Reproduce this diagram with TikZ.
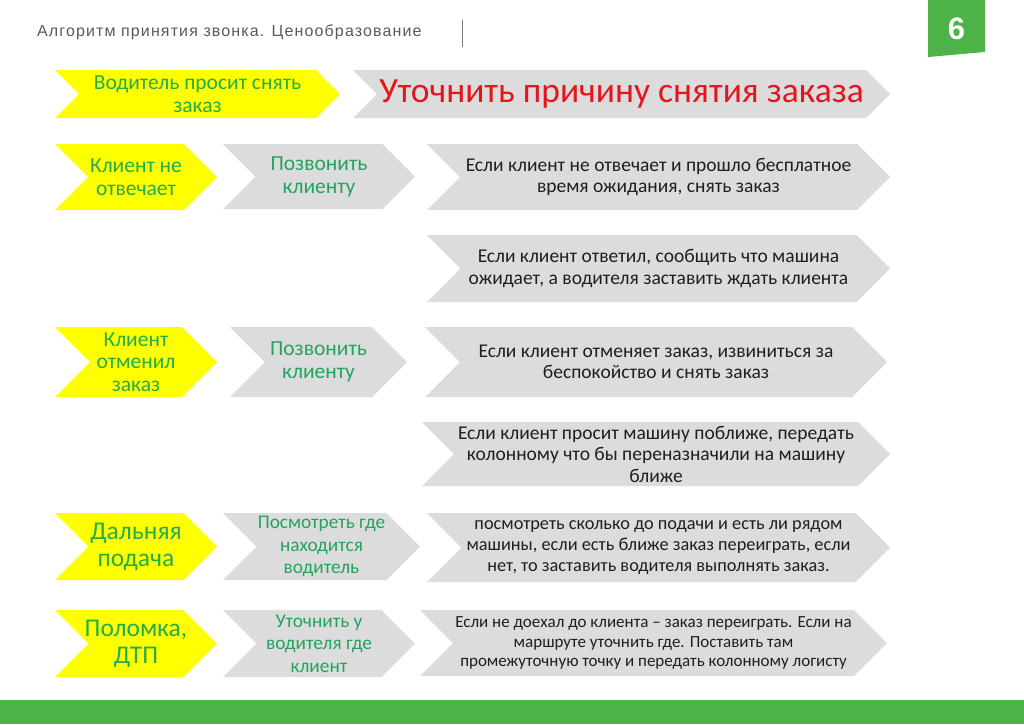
\documentclass[tikz,border=0pt]{standalone}
\usepackage{fontspec}
\setmainfont{Carlito}
\newfontfamily\headfont{Liberation Sans}

\definecolor{leadgreen}{HTML}{22AE48}
\definecolor{actgreen}{HTML}{22A45E}
\definecolor{chevgray}{HTML}{DCDCDC}
\definecolor{chevyellow}{HTML}{FFFF00}
\definecolor{titlered}{HTML}{E2161C}
\definecolor{slidegreen}{HTML}{4DB247}
\definecolor{headgray}{HTML}{595959}

%% chevron: [text style]{fill}{left}{right}{top}{bottom}{name}{text}
\newcommand{\chev}[8][]{%
  \fill[#2] (#3,#5) -- ({#4-(#6-#5)/2},#5) -- (#4,{(#5+#6)/2})
    -- ({#4-(#6-#5)/2},#6) -- (#3,#6) -- ({#3+(#6-#5)/2},{(#5+#6)/2}) -- cycle;
  \node[#1] (#7) at ({(#3+#4)/2},{(#5+#6)/2}) {#8};
}

\begin{document}
\begin{tikzpicture}[x=1pt,y=-1pt,
    lead/.style={text=leadgreen, align=center, font=\fontsize{21.5}{22.5}\selectfont},
    bigl/.style={text=leadgreen, align=center, font=\fontsize{25.5}{27}\selectfont},
    act/.style={text=actgreen, align=center, font=\fontsize{21.5}{23}\selectfont},
    acts/.style={text=actgreen, align=center, font=\fontsize{19.3}{22.5}\selectfont},
    note/.style={text=black!88, align=center, font=\fontsize{19.5}{21.5}\selectfont},
    notem/.style={text=black!88, align=center, font=\fontsize{18.3}{21}\selectfont},
    notes/.style={text=black!88, align=center, font=\fontsize{17}{19.5}\selectfont}]
  \useasboundingbox (0,0) rectangle (1024,724);

  %% header
  \node[anchor=west, text=headgray, inner sep=0pt,
    font=\headfont\addfontfeature{LetterSpace=7}\fontsize{16}{18}\selectfont]
    (title) at (37,32) {Алгоритм принятия звонка. Ценообразование};
  \draw[headgray!80, line width=0.9pt] (462,20) -- (462,47);
  \fill[slidegreen] (928,0) -- (985,0) -- (985,52) -- (928,57) -- cycle;
  \node[text=white, font=\headfont\bfseries\fontsize{31}{32}\selectfont]
    (page) at (956.5,29) {6};

  %% row 1
  \chev[lead]{chevyellow}{55}{340}{70}{118}{driver}{Водитель просит снять\\заказ}
  \chev[text=titlered, font=\fontsize{35.5}{38}\selectfont]{chevgray}{353}{890}{70}{118}{reason}{Уточнить причину снятия заказа}

  %% client does not answer
  \chev[lead]{chevyellow}{55}{217}{144}{210}{noanswer}{Клиент не\\отвечает}
  \chev[act]{chevgray}{223}{415}{144}{209}{call1}{Позвонить\\клиенту}
  \chev[note]{chevgray}{427}{890}{144}{210}{cancel1}{Если клиент не отвечает и прошло бесплатное\\время ожидания, снять заказ}
  \chev[note]{chevgray}{427}{890}{235}{302}{wait1}{Если клиент ответил, сообщить что машина\\ожидает, а водителя заставить ждать клиента}

  %% client cancelled
  \chev[lead]{chevyellow}{55}{217}{327}{397}{cancelled}{Клиент\\отменил\\заказ}
  \chev[act]{chevgray}{230}{407}{327}{397}{call2}{Позвонить\\клиенту}
  \chev[note]{chevgray}{425}{887}{327}{397}{sorry}{Если клиент отменяет заказ, извиниться за\\беспокойство и снять заказ}
  \chev[note]{chevgray}{422}{890}{422}{486}{closer}{Если клиент просит машину поближе, передать\\колонному что бы переназначили на машину\\ближе}

  %% far pickup
  \chev[bigl]{chevyellow}{55}{217}{513}{580}{far}{Дальняя\\подача}
  \chev[acts]{chevgray}{223}{420}{513}{580}{where}{Посмотреть где\\находится\\водитель}
  \chev[notem]{chevgray}{427}{890}{513}{582}{check}{посмотреть сколько до подачи и есть ли рядом\\машины, если есть ближе заказ переиграть, если\\нет, то заставить водителя выполнять заказ.}

  %% breakdown
  \chev[bigl]{chevyellow}{55}{217}{610}{677}{crash}{Поломка,\\ДТП}
  \chev[acts]{chevgray}{223}{415}{610}{677}{ask}{Уточнить у\\водителя где\\клиент}
  \chev[notes]{chevgray}{420}{887}{610}{676}{replay}{Если не доехал до клиента -- заказ переиграть. Если на\\маршруте уточнить где. Поставить там\\промежуточную точку и передать колонному логисту}

  %% footer band
  \fill[slidegreen] (0,700) rectangle (1024,724);
\end{tikzpicture}
\end{document}
